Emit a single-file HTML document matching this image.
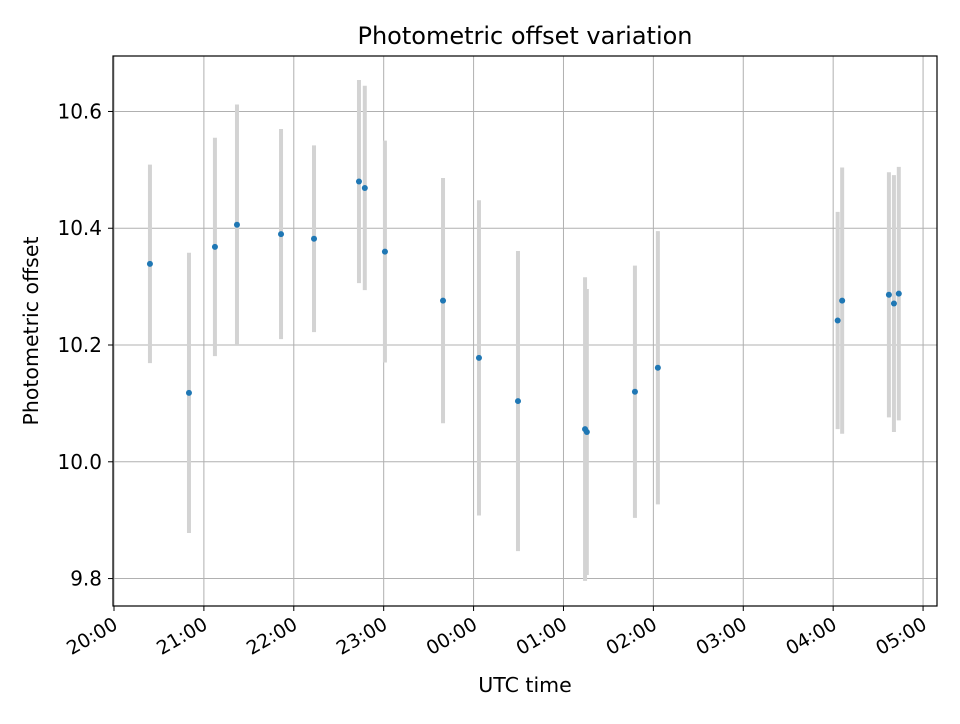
<!DOCTYPE html>
<html><head><meta charset="utf-8"><style>
body{margin:0;background:#fff;font-family:"DejaVu Sans","Liberation Sans",sans-serif}
</style></head><body>
<svg id="chart" width="960" height="720" xmlns="http://www.w3.org/2000/svg">
<rect width="960" height="720" fill="#fff"/>
<text x="525" y="44" text-anchor="middle" font-size="24" font-family="DejaVu Sans, Liberation Sans, sans-serif">Photometric offset variation</text>
<g id="grid"></g><g id="bars"></g><g id="pts"></g><g id="axes"></g>
<text x="525" y="692" text-anchor="middle" font-size="20.5" font-family="DejaVu Sans, Liberation Sans, sans-serif">UTC time</text>
<text transform="translate(38,331) rotate(-90)" text-anchor="middle" font-size="20.5" font-family="DejaVu Sans, Liberation Sans, sans-serif">Photometric offset</text>
</svg>
<script>
const hours=[0.40,0.834,1.123,1.368,1.858,2.225,2.725,2.79,3.014,3.66,4.06,4.494,5.24,5.26,5.795,6.05,8.05,8.10,8.62,8.676,8.73];
const offsets=[10.339,10.118,10.368,10.406,10.39,10.382,10.48,10.469,10.36,10.276,10.178,10.104,10.056,10.051,10.12,10.161,10.242,10.276,10.286,10.271,10.288];
const errors=[0.17,0.24,0.187,0.206,0.18,0.16,0.174,0.175,0.19,0.21,0.27,0.257,0.26,0.245,0.216,0.234,0.186,0.228,0.21,0.22,0.217];
const xTickLabels=["20:00","21:00","22:00","23:00","00:00","01:00","02:00","03:00","04:00","05:00"];
const yTickValues=[9.8,10.0,10.2,10.4,10.6];
const yTickLabels=["9.8","10.0","10.2","10.4","10.6"];
const L=113,R=937,T=56,B=606,xmin=-0.011,xmax=9.155,ymin=9.753,ymax=10.695;
const X=h=>L+(h-xmin)/(xmax-xmin)*(R-L);
const Y=v=>B-(v-ymin)/(ymax-ymin)*(B-T);
const NS="http://www.w3.org/2000/svg";
function mk(p,t,a){const e=document.createElementNS(NS,t);for(const k in a)e.setAttribute(k,a[k]);p.appendChild(e);return e;}
const grid=document.getElementById('grid'),axes=document.getElementById('axes'),bars=document.getElementById('bars'),pts=document.getElementById('pts');
const ff="DejaVu Sans, Liberation Sans, sans-serif";
xTickLabels.forEach((lab,i)=>{const x=X(i);
 const g=mk(grid,'line',{x1:x,x2:x,y1:T,y2:B,stroke:'#b0b0b0','stroke-width':1});
 
 const t=mk(axes,'line',{x1:x,x2:x,y1:B,y2:B+5,stroke:'#000','stroke-width':1});
 
 const ax=x+5, ay=B+22;
 const tx=mk(axes,'text',{x:ax,y:ay,'text-anchor':'end','font-size':19,'font-family':ff,transform:`rotate(-30 ${ax} ${ay})`});
 tx.textContent=lab;});
yTickValues.forEach((v,i)=>{const y=Y(v);
 const g=mk(grid,'line',{x1:L,x2:R,y1:y,y2:y,stroke:'#b0b0b0','stroke-width':1});
 
 const t=mk(axes,'line',{x1:L-5,x2:L,y1:y,y2:y,stroke:'#000','stroke-width':1});
 
 const tx=mk(axes,'text',{x:L-11,y:y+7,'text-anchor':'end','font-size':20,'font-family':ff});
 tx.textContent=yTickLabels[i];});
const fr=mk(axes,'rect',{x:L,y:T,width:R-L,height:B-T,fill:'none',stroke:'#000','stroke-width':1.2});

hours.forEach((h,i)=>{const x=X(h);
 const b=mk(bars,'line',{x1:x,x2:x,y1:Y(offsets[i]+errors[i]),y2:Y(offsets[i]-errors[i]),stroke:'#d3d3d3','stroke-width':4});
 
 const c=mk(pts,'circle',{cx:x,cy:Y(offsets[i]),r:3,fill:'#1f77b4'});
 });
</script>
</body></html>
